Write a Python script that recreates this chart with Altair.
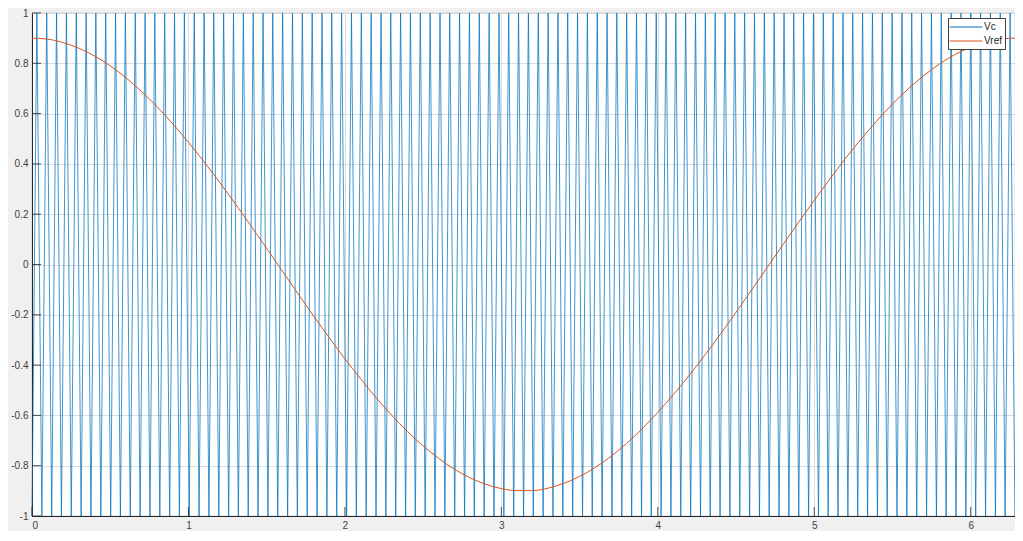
import altair as alt
import pandas as pd

# ---- data ----
# carrier Vc: triangle vertices (x positions), alternating -1 / +1
vc_x = [
    0.000, 0.031, 0.063, 0.094, 0.126, 0.157, 0.188, 0.220, 0.251, 0.283,
    0.314, 0.346, 0.377, 0.408, 0.440, 0.471, 0.503, 0.534, 0.565, 0.597,
    0.628, 0.660, 0.691, 0.723, 0.754, 0.785, 0.817, 0.848, 0.880, 0.911,
    0.942, 0.974, 1.005, 1.037, 1.068, 1.100, 1.131, 1.162, 1.194, 1.225,
    1.257, 1.288, 1.319, 1.351, 1.382, 1.414, 1.445, 1.477, 1.508, 1.539,
    1.571, 1.602, 1.634, 1.665, 1.696, 1.728, 1.759, 1.791, 1.822, 1.854,
    1.885, 1.916, 1.948, 1.979, 2.011, 2.042, 2.073, 2.105, 2.136, 2.168,
    2.199, 2.231, 2.262, 2.293, 2.325, 2.356, 2.388, 2.419, 2.450, 2.482,
    2.513, 2.545, 2.576, 2.608, 2.639, 2.670, 2.702, 2.733, 2.765, 2.796,
    2.827, 2.859, 2.890, 2.922, 2.953, 2.985, 3.016, 3.047, 3.079, 3.110,
    3.142, 3.173, 3.204, 3.236, 3.267, 3.299, 3.330, 3.362, 3.393, 3.424,
    3.456, 3.487, 3.519, 3.550, 3.581, 3.613, 3.644, 3.676, 3.707, 3.738,
    3.770, 3.801, 3.833, 3.864, 3.896, 3.927, 3.958, 3.990, 4.021, 4.053,
    4.084, 4.115, 4.147, 4.178, 4.210, 4.241, 4.273, 4.304, 4.335, 4.367,
    4.398, 4.430, 4.461, 4.492, 4.524, 4.555, 4.587, 4.618, 4.650, 4.681,
    4.712, 4.744, 4.775, 4.807, 4.838, 4.869, 4.901, 4.932, 4.964, 4.995,
    5.027, 5.058, 5.089, 5.121, 5.152, 5.184, 5.215, 5.246, 5.278, 5.309,
    5.341, 5.372, 5.404, 5.435, 5.466, 5.498, 5.529, 5.561, 5.592, 5.623,
    5.655, 5.686, 5.718, 5.749, 5.781, 5.812, 5.843, 5.875, 5.906, 5.938,
    5.969, 6.000, 6.032, 6.063, 6.095, 6.126, 6.158, 6.189, 6.220, 6.252,
    6.283,
]
vc_y = [-1, 1] * 100 + [-1]

# reference Vref
vref_x = [
    0.0, 0.1, 0.2, 0.3, 0.4, 0.5, 0.6, 0.7, 0.8, 0.9,
    1.0, 1.1, 1.2, 1.3, 1.4, 1.5, 1.6, 1.7, 1.8, 1.9,
    2.0, 2.1, 2.2, 2.3, 2.4, 2.5, 2.6, 2.7, 2.8, 2.9,
    3.0, 3.1, 3.2, 3.3, 3.4, 3.5, 3.6, 3.7, 3.8, 3.9,
    4.0, 4.1, 4.2, 4.3, 4.4, 4.5, 4.6, 4.7, 4.8, 4.9,
    5.0, 5.1, 5.2, 5.3, 5.4, 5.5, 5.6, 5.7, 5.8, 5.9,
    6.0, 6.1, 6.2, 6.283,
]
vref_y = [
    0.900, 0.896, 0.882, 0.860, 0.829, 0.790, 0.743, 0.688, 0.627, 0.559,
    0.486, 0.408, 0.326, 0.241, 0.153, 0.064, -0.026, -0.116, -0.205, -0.291,
    -0.375, -0.454, -0.530, -0.600, -0.664, -0.721, -0.771, -0.814, -0.848, -0.874,
    -0.891, -0.899, -0.899, -0.889, -0.870, -0.843, -0.807, -0.763, -0.712, -0.653,
    -0.588, -0.517, -0.441, -0.361, -0.277, -0.190, -0.101, -0.011, 0.079, 0.168,
    0.255, 0.340, 0.422, 0.499, 0.571, 0.638, 0.698, 0.751, 0.797, 0.835,
    0.864, 0.885, 0.897, 0.900,
]

x_ticks = [0, 1, 2, 3, 4, 5, 6]
y_ticks = [-1, -0.8, -0.6, -0.4, -0.2, 0, 0.2, 0.4, 0.6, 0.8, 1]
series = ["Vc", "Vref"]
series_colors = ["#0072BD", "#D95319"]

W, H = 983, 503
X_MAX = 6.2832

vc_df = pd.DataFrame({"x": vc_x, "y": vc_y, "series": "Vc"})
vref_df = pd.DataFrame({"x": vref_x, "y": vref_y, "series": "Vref"})
yt_df = pd.DataFrame({"y": y_ticks})
xt_df = pd.DataFrame({"x": x_ticks})

AX = "#262626"
FONT = "Liberation Sans"

xscale = alt.Scale(domain=[0, X_MAX], nice=False, zero=False)
yscale = alt.Scale(domain=[-1, 1], nice=False, zero=False)

x_axis = alt.Axis(
    values=x_ticks, format="d", title=None, grid=True, gridColor="#dcdcdc",
    gridWidth=1, tickSize=0, domainColor=AX, domainWidth=1, labelPadding=4,
    labelFont=FONT, labelFontSize=10, labelColor="#404040",
)
y_axis = alt.Axis(
    values=y_ticks, title=None, grid=True, gridColor="#dcdcdc", gridWidth=1,
    tickSize=0, domainColor=AX, domainWidth=1, labelPadding=4,
    labelFont=FONT, labelFontSize=10, labelColor="#404040",
    labelExpr="replace(format(datum.value, '.1~f'), '\u2212', '-')",
)

color = alt.Color(
    "series:N",
    scale=alt.Scale(domain=series, range=series_colors),
    legend=alt.Legend(
        title=None, orient="none", legendX=916, legendY=5,
        symbolType="M-3,0H3", symbolSize=120, symbolStrokeWidth=1,
        symbolOffset=9, labelOffset=12,
        labelFont=FONT, labelFontSize=10, labelColor="#262626",
        fillColor="white", strokeColor="#404040", padding=3,
        rowPadding=3, cornerRadius=0,
    ),
)

vc_line = alt.Chart(vc_df).mark_line(strokeWidth=0.75).encode(
    x=alt.X("x:Q", scale=xscale, axis=x_axis),
    y=alt.Y("y:Q", scale=yscale, axis=y_axis),
    color=color,
)

vref_line = alt.Chart(vref_df).mark_line(strokeWidth=1, interpolate="monotone").encode(
    x=alt.X("x:Q", scale=xscale),
    y=alt.Y("y:Q", scale=yscale),
    color=color,
)

y_tick_marks = alt.Chart(yt_df).mark_rule(color=AX, strokeWidth=0.8).encode(
    y=alt.Y("y:Q", scale=yscale),
    x=alt.value(0), x2=alt.value(9),
)
x_tick_marks = alt.Chart(xt_df).mark_rule(color=AX, strokeWidth=0.8).encode(
    x=alt.X("x:Q", scale=xscale),
    y=alt.value(H), y2=alt.value(H - 9),
)

chart = alt.layer(vc_line, vref_line, y_tick_marks, x_tick_marks).properties(
    width=W, height=H,
    autosize=alt.AutoSizeParams(type="none"),
    padding={"left": 24, "top": 5, "right": 0, "bottom": 15},
    background="#f0f0f0",
).configure_view(
    fill="white", stroke="#8c8c8c", strokeWidth=0.8,
)

chart.save("out.html", embed_options={"renderer": "svg", "actions": False})
